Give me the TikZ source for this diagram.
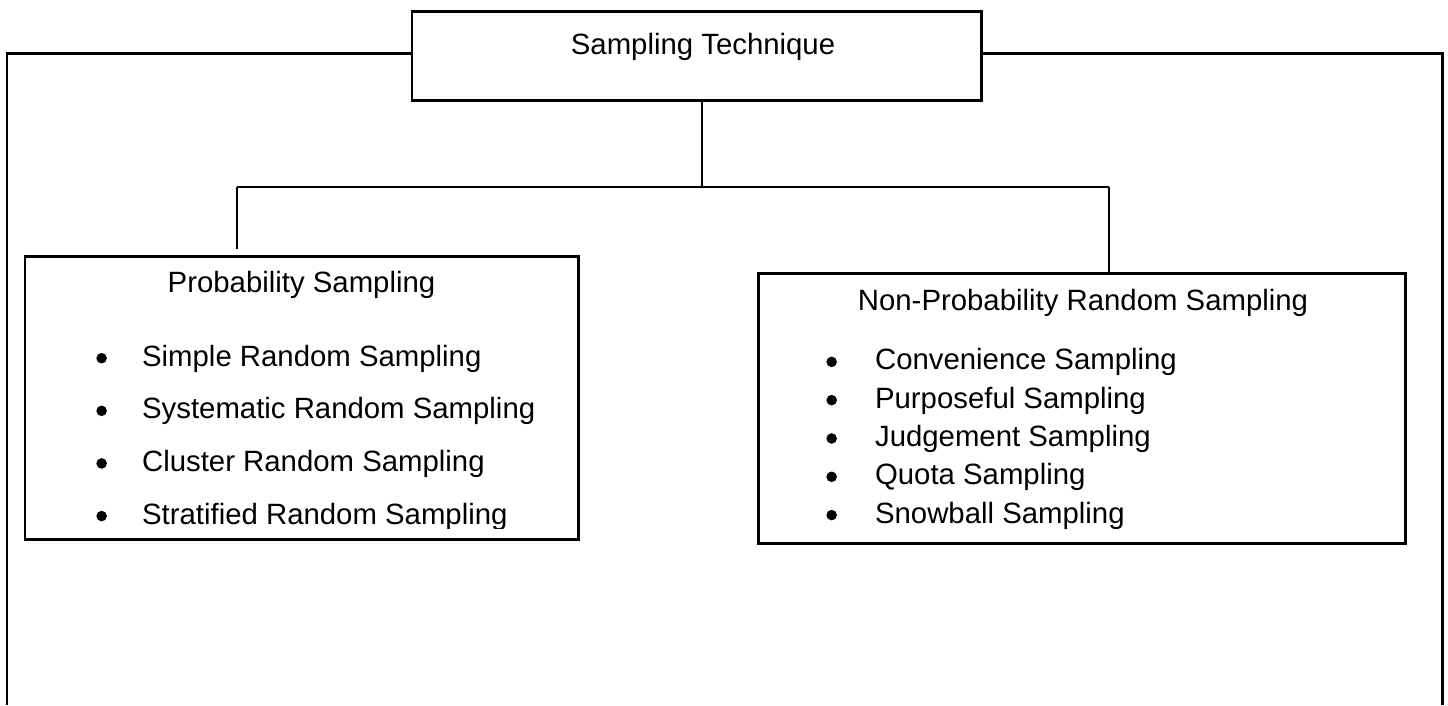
\documentclass[tikz,border=0pt]{standalone}
\usepackage{fontspec}
\setmainfont{Liberation Sans}
\usepackage{tikz}
\tikzstyle{titlebox} = [rectangle, draw=black, line width=1.7pt, inner sep=0pt, minimum width=11.38cm, text height=0.86cm, text depth=0.92cm, font=\fontsize{16.7}{20}\selectfont]
\tikzstyle{groupbox} = [rectangle, draw=black, line width=1.7pt]
\tikzstyle{heading} = [anchor=base, inner sep=0pt, font=\fontsize{16.7}{20}\selectfont]
\tikzstyle{itemlist} = [anchor=base west, inner sep=0pt, align=left]
\tikzstyle{outline} = [line width=1.7pt]
\tikzstyle{link} = [line width=0.8pt]
\newcommand{\itemdot}{\tikz[baseline=0pt]\fill (0.18em,0.27em) circle (0.18em);}

\begin{document}
\begin{tikzpicture}[node distance=2cm]
  \useasboundingbox (0,0) rectangle (28.96,-14.1);

  \node (top) [titlebox] at (13.93,-1.11) {\hspace*{0.26cm}Sampling Technique};
  \node (prob) [groupbox, below of=top, xshift=-7.9cm, yshift=-4.84cm, minimum width=11.06cm, minimum height=5.66cm] {};
  \node (nonprob) [groupbox, below of=top, xshift=7.7cm, yshift=-5.05cm, minimum width=12.94cm, minimum height=5.4cm] {};

  \node (probtitle) [heading] at ([yshift=-0.76cm]prob.north) {Probability Sampling};
  \node (nonprobtitle) [heading] at ([yshift=-0.78cm, xshift=0.03cm]nonprob.north) {Non-Probability Random Sampling};

  % list anchors sit on the baseline of the last line
  \begin{scope}
    \clip (prob.north west) rectangle ([yshift=0.24cm]prob.south east);
    \node (problist) [itemlist, font=\fontsize{16.7}{29.95}\selectfont] at (1.92,-10.48)
      {\itemdot\hspace{1.2em}Simple Random Sampling\\
       \itemdot\hspace{1.2em}Systematic Random Sampling\\
       \itemdot\hspace{1.2em}Cluster Random Sampling\\
       \itemdot\hspace{1.2em}Stratified Random Sampling};
  \end{scope}
  \node (nonproblist) [itemlist, font=\fontsize{16.7}{21.8}\selectfont] at (16.52,-10.46)
    {\itemdot\hspace{1.3em}Convenience Sampling\\
     \itemdot\hspace{1.3em}Purposeful Sampling\\
     \itemdot\hspace{1.3em}Judgement Sampling\\
     \itemdot\hspace{1.3em}Quota Sampling\\
     \itemdot\hspace{1.3em}Snowball Sampling};

  % outer frame, open at the bottom
  \coordinate (frameNW) at (0.14,-1.06);
  \coordinate (frameSW) at (0.14,-14.1);
  \coordinate (frameNE) at (28.84,-1.06);
  \coordinate (frameSE) at (28.84,-14.1);
  \draw [outline] (top.west |- frameNW) -- (frameNW) -- (frameSW);
  \draw [outline] (top.east |- frameNE) -- (frameNE) -- (frameSE);

  \coordinate (forkL) at (4.74,-3.74);
  \coordinate (forkR) at (22.18,-3.74);
  \draw [link] ([xshift=0.11cm]top.south) -- ([xshift=0.11cm]top.south |- forkL);
  \draw [link] (forkL) -- (forkR);
  \draw [link] (forkL) -- ([yshift=0.12cm]prob.north -| forkL);
  \draw [link] (forkR) -- (nonprob.north -| forkR);
\end{tikzpicture}
\end{document}
